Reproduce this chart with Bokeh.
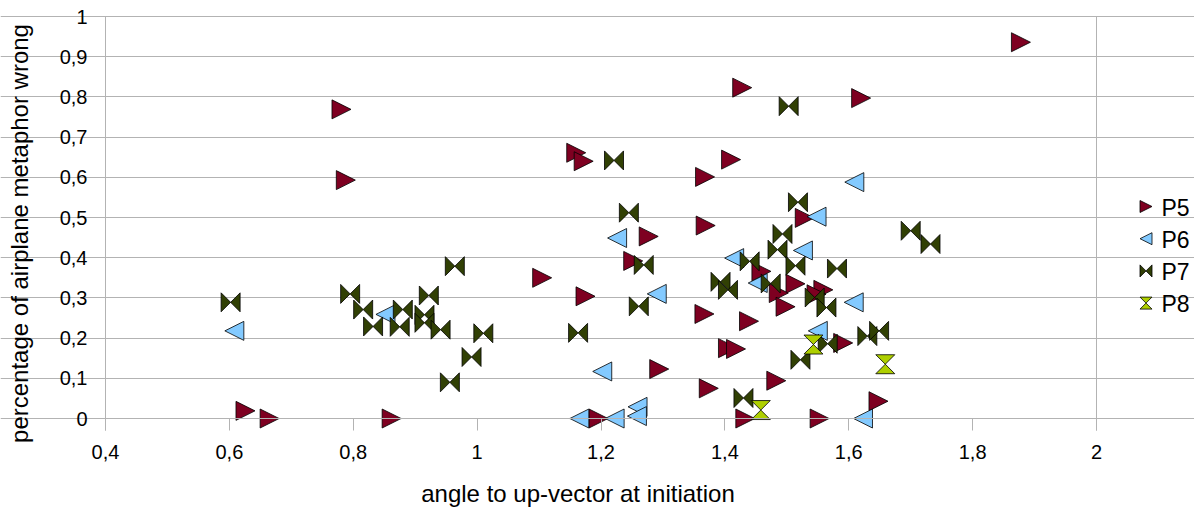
import math
from bokeh.plotting import figure
from bokeh.models import Range1d, FixedTicker, Label
from bokeh.embed import file_html
from bokeh.resources import INLINE

# ---------------- data ----------------
series_names = ["P5", "P6", "P7", "P8"]

P5_x = [1.878, 0.781, 0.788, 0.626, 0.665, 0.862, 1.105, 1.160, 1.172, 1.428, 1.410, 1.368,
        1.620, 1.277, 1.252, 1.175, 1.294, 1.196, 1.367, 1.439, 1.405, 1.418, 1.374, 1.483,
        1.433, 1.553, 1.648, 1.591, 1.369, 1.529, 1.459, 1.514, 1.487, 1.559, 1.548, 1.498]
P5_y = [0.936, 0.769, 0.593, 0.019, 0.0, 0.0, 0.350, 0.661, 0.640, 0.823, 0.644, 0.601,
        0.797, 0.453, 0.392, 0.304, 0.123, 0.0, 0.260, 0.242, 0.175, 0.173, 0.075, 0.094,
        0.0, 0.0, 0.043, 0.188, 0.480, 0.499, 0.366, 0.335, 0.312, 0.320, 0.309, 0.278]

P6_x = [0.608, 0.852, 1.226, 1.290, 1.202, 1.165, 1.222, 1.259, 1.258, 1.609, 1.548, 1.526,
        1.415, 1.453, 1.608, 1.550, 1.623]
P6_y = [0.218, 0.259, 0.449, 0.310, 0.117, 0.0, 0.0, 0.029, 0.006, 0.588, 0.502, 0.418,
        0.399, 0.337, 0.289, 0.218, 0.0]

P7_x = [0.602, 0.795, 0.816, 0.832, 0.880, 0.875, 0.922, 0.915, 0.915, 0.941, 0.964, 1.010,
        0.991, 0.956, 1.163, 1.221, 1.245, 1.269, 1.261, 1.503, 1.518, 1.493, 1.485, 1.440,
        1.514, 1.581, 1.393, 1.405, 1.474, 1.545, 1.564, 1.630, 1.649, 1.522, 1.566, 1.430,
        1.700, 1.732]
P7_y = [0.289, 0.310, 0.271, 0.229, 0.271, 0.228, 0.306, 0.258, 0.238, 0.221, 0.379, 0.212,
        0.153, 0.090, 0.213, 0.642, 0.512, 0.382, 0.279, 0.777, 0.538, 0.459, 0.420, 0.391,
        0.380, 0.373, 0.340, 0.320, 0.336, 0.301, 0.276, 0.205, 0.218, 0.146, 0.186, 0.051,
        0.467, 0.434]

P8_x = [1.543, 1.659, 1.458]
P8_y = [0.184, 0.135, 0.021]

x_ticks = [0.4, 0.6, 0.8, 1.0, 1.2, 1.4, 1.6, 1.8, 2.0]
x_tick_labels = ["0,4", "0,6", "0,8", "1", "1,2", "1,4", "1,6", "1,8", "2"]
y_ticks = [0.0, 0.1, 0.2, 0.3, 0.4, 0.5, 0.6, 0.7, 0.8, 0.9, 1.0]
y_tick_labels = ["0", "0,1", "0,2", "0,3", "0,4", "0,5", "0,6", "0,7", "0,8", "0,9", "1"]

x_title = "angle to up-vector at initiation"
y_title = "percentage of airplane metaphor wrong"

# ---------------- styling / layout ----------------
FONT = "Liberation Sans"
GRID = "#b3b3b3"
colors = {"P5": "#7E0021", "P6": "#83CAFF", "P7": "#314004", "P8": "#AECF00"}
shapes = {"P5": "tri_right", "P6": "tri_left", "P7": "bowtie", "P8": "hourglass"}
SHAPES = {
    "tri_right": [(-1, -1), (1, 0), (-1, 1)],
    "tri_left": [(1, -1), (-1, 0), (1, 1)],
    "bowtie": [(-1, 1), (0, 0), (1, 1), (1, -1), (0, 0), (-1, -1)],
    "hourglass": [(-1, 1), (1, 1), (0, 0), (1, -1), (-1, -1), (0, 0)],
}

W, H = 1194, 508             # canvas == frame
X_LO, X_HI = 0.4, 2.0        # plot-area x extent
PX_X = 991 / (X_HI - X_LO)   # pixels per x unit
PX_Y = 402                   # pixels per y unit
LEFT_PX = 105                # canvas x of X_LO
ZERO_PX = 418                # canvas y (from top) of y = 0
TICK_BELOW = 12              # axis ticks below y = 0 (px)
BASE_FIX = 9.5               # label baseline correction (px)

XS = X_LO - LEFT_PX / PX_X
XE = XS + W / PX_X
YS = -(H - ZERO_PX) / PX_Y
YE = ZERO_PX / PX_Y
ux, uy = 1 / PX_X, 1 / PX_Y
Y_LOW = -TICK_BELOW / PX_Y
HALF = 9.5


def cx(px):
    return XS + px / PX_X


def cy(py):
    return YE - py / PX_Y


p = figure(frame_width=W, frame_height=H, x_range=Range1d(XS, XE), y_range=Range1d(YS, YE),
           output_backend="svg", toolbar_location=None,
           min_border=0, min_border_left=0, min_border_right=0, min_border_top=0,
           min_border_bottom=0, background_fill_color="white", border_fill_color="white")
p.outline_line_color = None

p.xgrid.visible = False
p.ygrid.ticker = FixedTicker(ticks=y_ticks)
p.ygrid.bounds = (X_LO, X_HI)
p.ygrid.grid_line_color = GRID
p.ygrid.grid_line_width = 1

p.xaxis.ticker = FixedTicker(ticks=x_ticks)
p.yaxis.ticker = FixedTicker(ticks=y_ticks)
p.xaxis.major_label_overrides = dict(zip(x_ticks, x_tick_labels))
p.yaxis.major_label_overrides = dict(zip(y_ticks, y_tick_labels))
p.xaxis.fixed_location = 0.0
p.yaxis.fixed_location = X_LO
p.xaxis.bounds = (X_LO, X_HI)
p.yaxis.bounds = (Y_LOW, 1.0)
for ax in (p.xaxis, p.yaxis):
    ax.axis_line_color = GRID
    ax.major_tick_line_color = GRID
    ax.major_tick_in = 0
    ax.minor_tick_line_color = None
    ax.major_label_text_font = FONT
    ax.major_label_text_font_size = "20px"
    ax.major_label_text_color = "black"
p.xaxis.major_tick_out = TICK_BELOW
p.yaxis.major_tick_out = 10
p.xaxis.major_label_standoff = 14
p.yaxis.major_label_standoff = 8

# right-hand border of the plot area
p.segment(x0=[X_HI], y0=[Y_LOW], x1=[X_HI], y1=[1.0], line_color=GRID, line_width=1)


def marker_polys(xs, ys, shape, half):
    pts = SHAPES[shape]
    pxs = [[x + dx * half * ux for dx, dy in pts] for x in xs]
    pys = [[y + dy * half * uy for dx, dy in pts] for y in ys]
    return pxs, pys


data = {"P5": (P5_x, P5_y), "P6": (P6_x, P6_y), "P7": (P7_x, P7_y), "P8": (P8_x, P8_y)}
for name in series_names:
    xs, ys = data[name]
    pxs, pys = marker_polys(xs, ys, shapes[name], HALF)
    p.patches(pxs, pys, fill_color=colors[name], line_color="black", line_width=0.8)

# ---------------- axis titles ----------------
p.add_layout(Label(x=26 - 7, y=H - 233, x_units="screen", y_units="screen", text=y_title,
                   angle=math.pi / 2, text_align="center", text_baseline="alphabetic",
                   text_font=FONT, text_font_size="24px", text_color="black"))
p.add_layout(Label(x=577.5, y=H - 502 + BASE_FIX, x_units="screen", y_units="screen",
                   text=x_title, text_align="center", text_baseline="alphabetic",
                   text_font=FONT, text_font_size="24px", text_color="black"))

# ---------------- legend ----------------
LEG_X = 1145.5
LEG_Y0 = 206
LEG_DY = 32.2
for i, name in enumerate(series_names):
    my = LEG_Y0 + i * LEG_DY
    pxs, pys = marker_polys([cx(LEG_X)], [cy(my)], shapes[name], 6)
    p.patches(pxs, pys, fill_color=colors[name], line_color="black", line_width=0.8)
    p.add_layout(Label(x=LEG_X + 15.5, y=H - (my + 10.8) + BASE_FIX,
                       x_units="screen", y_units="screen",
                       text=name, text_align="left", text_baseline="alphabetic",
                       text_font=FONT, text_font_size="23px", text_color="black"))

open("out.html", "w").write(file_html(p, INLINE))
